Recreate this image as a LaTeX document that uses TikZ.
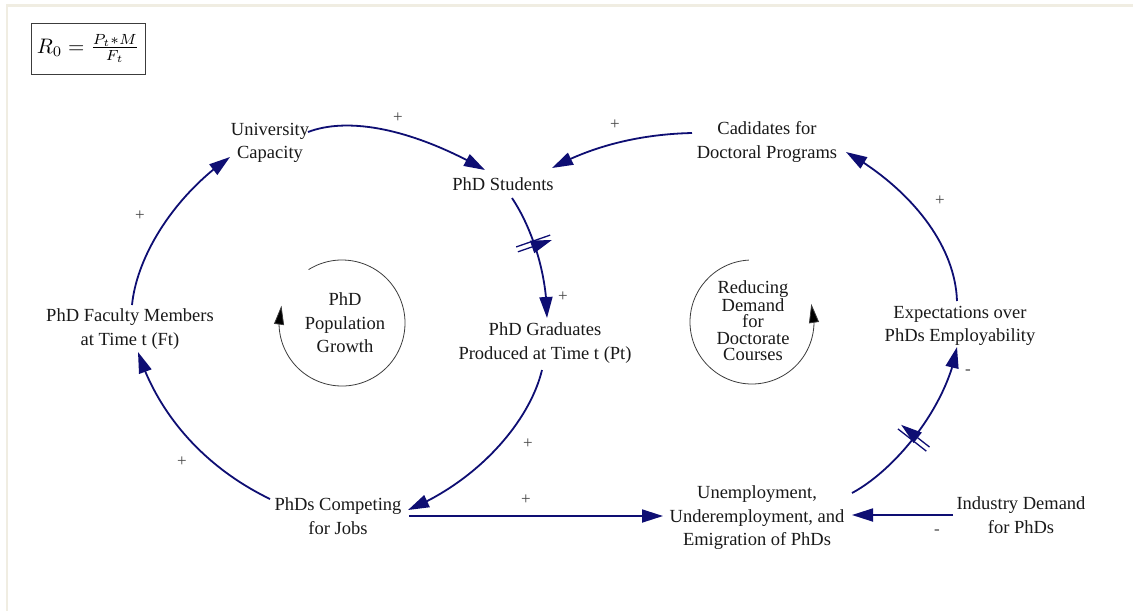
\documentclass[tikz,border=0pt]{standalone}
\usepackage{fontspec}
\usepackage{graphicx}
\setmainfont{Liberation Serif}
\newfontfamily\lblfont{Liberation Serif}
\usetikzlibrary{arrows.meta,decorations.markings,bending,calc}
\definecolor{navy}{RGB}{14,14,115}
\definecolor{txtc}{RGB}{25,25,25}
\definecolor{sgnc}{RGB}{70,70,70}
\definecolor{loopgray}{RGB}{60,60,60}
\definecolor{framec}{RGB}{240,237,226}
\definecolor{boxc}{RGB}{60,60,60}
\begin{document}
\begin{tikzpicture}[x=1pt,y=1pt,
  lbl/.style={font=\lblfont\fontsize{18.5}{23.5}\selectfont, align=center, text=txtc, inner sep=1pt},
  sgn/.style={font=\lblfont\fontsize{17}{17}\selectfont, text=sgnc, inner sep=0pt},
  link/.style={draw=navy, line width=1.8pt, -{Triangle[length=21pt,width=13pt]}},
  hashmark/.style={postaction={decorate}, decoration={markings, mark=at position #1 with {\draw[navy,line width=1.3pt] (-2.6pt,-18pt)--(-2.6pt,18pt) (2.6pt,-18pt)--(2.6pt,18pt);}}},
  loopc/.style={draw=loopgray, line width=0.8pt, -{Triangle[length=19pt,width=10pt,fill=black]}},
]
\useasboundingbox (0,0) rectangle (1133,-611);
\fill[white] (0,0) rectangle (1133,-611);
\draw[framec, line width=2.5pt] (7,-611) -- (7,-5.5) -- (1133,-5.5);

% formula
\node[draw=boxc, line width=0.8pt, minimum width=114pt, minimum height=51pt, inner sep=0pt] (f) at (88,-48.5) {\fontsize{10}{12}\selectfont\scalebox{2.1}{$R_0=\frac{P_t*M}{F_t}$}};

% variables
\node[lbl] (uc) at (270,-143) {University\\Capacity};
\node[lbl] (ps) at (503,-184) {PhD Students};
\node[lbl] (cd) at (767,-142) {Cadidates for\\Doctoral Programs};
\node[lbl] (fm) at (130,-329) {PhD Faculty Members\\at Time t (Ft)};
\node[lbl] (pg) at (545,-343) {PhD Graduates\\Produced at Time t (Pt)};
\node[lbl] (ex) at (960,-326) {Expectations over\\PhDs Employability};
\node[lbl] (pc) at (338,-516) {PhDs Competing\\for Jobs};
\node[lbl] (un) at (757,-518) {Unemployment,\\Underemployment, and\\Emigration of PhDs};
\node[lbl] (id) at (1021,-515) {Industry Demand\\for PhDs};

% loop labels
\node[lbl] (lg) at (345,-323) {PhD\\Population\\Growth};
\node[lbl, font=\lblfont\fontsize{18.5}{16.5}\selectfont] (lr) at (753,-321) {Reducing\\Demand\\for\\Doctorate\\Courses};

% loop circles
\draw[loopc] ($(lg.center)+(-3,0)+(122:63)$) arc[start angle=122, end angle=-196, radius=63];
\draw[loopc] ($(lr.center)+(-1,-1)+(93:62)$) arc[start angle=93, end angle=377, radius=62];

% links
\draw[link] ([shift={(38,11)}]uc.center) .. controls +(42,16) and +(-70,40) .. ([shift={(-18,14)}]ps.center);
\draw[link] ([shift={(-75,9)}]cd.center) .. controls +(-42,-1) and +(48,26) .. ([shift={(49,16)}]ps.center);
\draw[link, hashmark=0.4] ([shift={(9,-14)}]ps.center) .. controls +(18,-27) and +(0,48) .. ([shift={(2,25)}]pg.center);
\draw[link] ([shift={(-3,-27)}]pg.center) .. controls +(-12,-50) and +(72,30) .. ([shift={(70,6)}]pc.center);
\draw[link] ([shift={(71,0)}]pc.center) -- ([shift={(-94,2)}]un.center);
\draw[link] ([shift={(-68,0)}]id.center) -- ([shift={(95,3)}]un.center);
\draw[link, hashmark=0.45] ([shift={(95,25)}]un.center) .. controls +(43,23) and +(-10,-60) .. ([shift={(-3,-21)}]ex.center);
\draw[link] ([shift={(-3,25)}]ex.center) .. controls +(-2,60) and +(59,-33) .. ([shift={(79,-10)}]cd.center);
\draw[link] ([shift={(-68,17)}]pc.center) .. controls +(-60,29) and +(22,-68) .. ([shift={(8,-23)}]fm.center);
\draw[link] ([shift={(2,24)}]fm.center) .. controls +(5,50) and +(-55,-38) .. ([shift={(-40,-14)}]uc.center);

% polarities
\node[sgn] (s1) at (398,-118) {+};
\node[sgn] (s2) at (615,-125) {+};
\node[sgn] (s3) at (563,-297) {+};
\node[sgn] (s4) at (528,-444) {+};
\node[sgn] (s5) at (526,-500) {+};
\node[sgn] (s6) at (937,-532) {-};
\node[sgn] (s7) at (968,-372) {-};
\node[sgn] (s8) at (940,-201) {+};
\node[sgn] (s9) at (182,-462) {+};
\node[sgn] (s10) at (140,-216) {+};
\end{tikzpicture}
\end{document}
